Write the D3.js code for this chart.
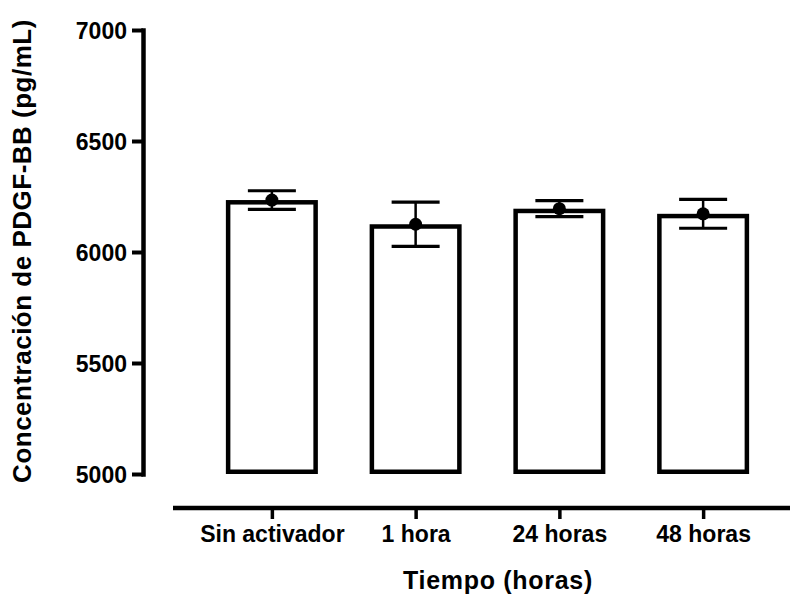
<!DOCTYPE html>
<html><head><meta charset="utf-8">
<script src="https://cdn.jsdelivr.net/npm/d3@7"></script>
<style>
html,body{margin:0;padding:0;background:#fff;}
svg text{font-family:"Liberation Sans",Arial,sans-serif;font-weight:bold;fill:#000;}
</style></head>
<body><svg id="chart" width="790" height="599"></svg>
<script>
const categories = ["Sin activador", "1 hora", "24 horas", "48 horas"];
const means = [6234, 6125, 6195, 6172];
const errors = [42, 100, 36, 65];
const yTicks = [5000, 5500, 6000, 6500, 7000];
const yTitle = "Concentración de PDGF-BB (pg/mL)";
const xTitle = "Tiempo (horas)";

const svg = d3.select("#chart");
const y = d3.scaleLinear().domain([5000, 7000]).range([474, 30]);
const x = d3.scalePoint().domain(categories).range([200, 775]).padding(0.5);
const barW = 92, sw = 4.5, capW = 48;

// bars (stroke inset)
svg.append("g").selectAll("rect").data(categories).join("rect")
  .attr("x", d => x(d) - barW / 2 + sw / 2)
  .attr("width", barW - sw)
  .attr("y", (d, i) => y(means[i]) + sw / 2)
  .attr("height", (d, i) => y(5000) - y(means[i]) - sw)
  .attr("fill", "#fff").attr("stroke", "#000").attr("stroke-width", sw);

// error bars
const eb = svg.append("g");
categories.forEach((c, i) => {
  const cx = x(c), hi = y(means[i] + errors[i]), lo = y(means[i] - errors[i]);
  eb.append("line").attr("x1", cx).attr("x2", cx).attr("y1", hi).attr("y2", lo)
    .attr("stroke", "#000").attr("stroke-width", 2.5);
  [hi, lo].forEach(v => eb.append("line").attr("x1", cx - capW / 2).attr("x2", cx + capW / 2)
    .attr("y1", v).attr("y2", v).attr("stroke", "#000").attr("stroke-width", 3.2));
});
svg.append("g").selectAll("circle").data(categories).join("circle")
  .attr("cx", d => x(d)).attr("cy", (d, i) => y(means[i])).attr("r", 6.5).attr("fill", "#000");

// y axis
const ya = svg.append("g").attr("transform", "translate(143,0)")
  .call(d3.axisLeft(y).tickValues(yTicks).tickFormat(d3.format("d")).tickSize(11).tickSizeOuter(0).tickPadding(5));
ya.select(".domain").attr("stroke-width", 4.5).attr("stroke-linecap", "square");
ya.selectAll(".tick line").attr("stroke-width", 4);
ya.selectAll("text").style("font-size", "23px").attr("dy", "0.36em");

// x axis
const xa = svg.append("g").attr("transform", "translate(0,508)")
  .call(d3.axisBottom(x).tickSize(11).tickSizeOuter(0).tickPadding(8));
xa.select(".domain").remove();
xa.append("line").attr("x1", 173).attr("x2", 790).attr("y1", 0).attr("y2", 0)
  .attr("stroke", "#000").attr("stroke-width", 4.5);
xa.selectAll(".tick line").attr("stroke-width", 3.5);
xa.selectAll("text").style("font-size", "23px").attr("dy", "0.66em");

// titles
svg.append("text").attr("x", 498).attr("y", 589).attr("text-anchor", "middle")
  .style("font-size", "25px").style("letter-spacing", "0.7px").text(xTitle);
svg.append("text").attr("transform", "translate(31,251) rotate(-90)").attr("text-anchor", "middle")
  .style("font-size", "26px").style("letter-spacing", "0.5px").text(yTitle);
</script></body></html>
